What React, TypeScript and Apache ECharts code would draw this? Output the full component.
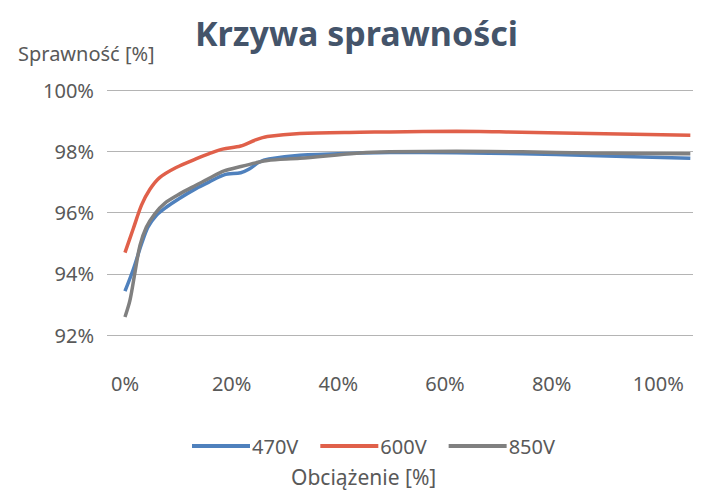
import React, { useEffect, useRef } from "react";
import * as echarts from "echarts";

const xTicks = [0, 20, 40, 60, 80, 100];

const x470 = [0, 1.55, 3.1, 4.3, 5.9, 7.8, 10.2, 13.3, 15.8, 18.6, 21.7, 23.3, 25.1, 27, 32.8, 44, 49.6, 62.2, 74.5, 87.2, 106];
const v470 = [93.43, 94.14, 94.97, 95.52, 95.91, 96.18, 96.46, 96.78, 97.0, 97.23, 97.3, 97.42, 97.64, 97.75, 97.87, 97.94, 97.96, 97.95, 97.92, 97.86, 97.77];

const x600 = [0, 1.55, 3.1, 4.65, 6.5, 9.6, 13.3, 15.8, 18.3, 21.7, 24.5, 26.7, 32.8, 44, 49.6, 62.2, 71.5, 87.2, 106];
const v600 = [94.69, 95.47, 96.24, 96.75, 97.14, 97.47, 97.75, 97.92, 98.07, 98.17, 98.37, 98.48, 98.58, 98.62, 98.63, 98.65, 98.63, 98.58, 98.52];

const x850 = [0, 0.93, 1.86, 2.8, 4.0, 5.6, 7.45, 10.2, 13.3, 15.8, 18.6, 21.7, 24.5, 26.7, 32.8, 44, 49.6, 62.2, 74.5, 87.2, 106];
const v850 = [92.59, 93.13, 94.03, 94.92, 95.52, 95.96, 96.3, 96.6, 96.89, 97.12, 97.36, 97.5, 97.62, 97.7, 97.77, 97.94, 97.98, 98.0, 97.98, 97.94, 97.92];

const seriesNames = ["470V", "600V", "850V"];
const colors = ["#4f81bd", "#e0604a", "#808080"];

const FONT = "'Noto Sans', 'Open Sans', sans-serif";

function zip(xs: number[], ys: number[]) {
  return xs.map((x, i) => [x, ys[i]]);
}

export default function App() {
  const ref = useRef<HTMLDivElement>(null);
  useEffect(() => {
    if (!ref.current) return;
    const chart = echarts.init(ref.current, undefined, { renderer: "svg" });
    const data = [zip(x470, v470), zip(x600, v600), zip(x850, v850)];
    chart.setOption({
      animation: false,
      backgroundColor: "#ffffff",
      grid: { left: 107, right: 20, top: 90, bottom: 161, containLabel: false },
      title: {
        text: "Krzywa sprawności",
        left: "center",
        top: 11,
        textStyle: { fontFamily: FONT, fontSize: 34, fontWeight: "bold", color: "#44546a" },
      },
      legend: {
        left: 187,
        top: 431,
        icon: "rect",
        itemWidth: 58,
        itemHeight: 4,
        itemGap: 22,
        textStyle: { fontFamily: FONT, fontSize: 20, color: "#595959", padding: [0, 0, 0, -3] },
        data: seriesNames,
      },
      xAxis: {
        type: "value",
        min: -3.37,
        max: 106.5,
        axisLine: { show: false },
        axisTick: { show: false },
        splitLine: { show: false },
        axisLabel: {
          customValues: xTicks,
          formatter: (v: number) => `${Math.round(v)}%`,
          margin: 38,
          fontFamily: FONT,
          fontSize: 20,
          color: "#595959",
        },
      },
      yAxis: {
        type: "value",
        min: 92,
        max: 100,
        interval: 2,
        axisLine: { show: false },
        axisTick: { show: false },
        splitLine: { show: true, lineStyle: { color: "#b4b4b4", width: 1 } },
        axisLabel: {
          formatter: (v: number) => `${v}%`,
          margin: 13,
          fontFamily: FONT,
          fontSize: 20,
          color: "#595959",
        },
      },
      graphic: [
        {
          type: "text",
          left: 18,
          top: 43,
          style: { text: "Sprawność [%]", fontFamily: FONT, fontSize: 20, fill: "#595959" },
        },
        {
          type: "text",
          left: 291,
          top: 466,
          style: { text: "Obciążenie [%]", fontFamily: FONT, fontSize: 21, fill: "#595959" },
        },
      ],
      series: seriesNames.map((name, i) => ({
        name,
        type: "line",
        data: data[i],
        smooth: 0.3,
        showSymbol: false,
        symbol: "none",
        lineStyle: { color: colors[i], width: 3.5 },
        itemStyle: { color: colors[i] },
      })),
    });
    return () => chart.dispose();
  }, []);
  return <div ref={ref} style={{ width: 713, height: 496, position: "absolute", left: 0, top: 0 }} />;
}
